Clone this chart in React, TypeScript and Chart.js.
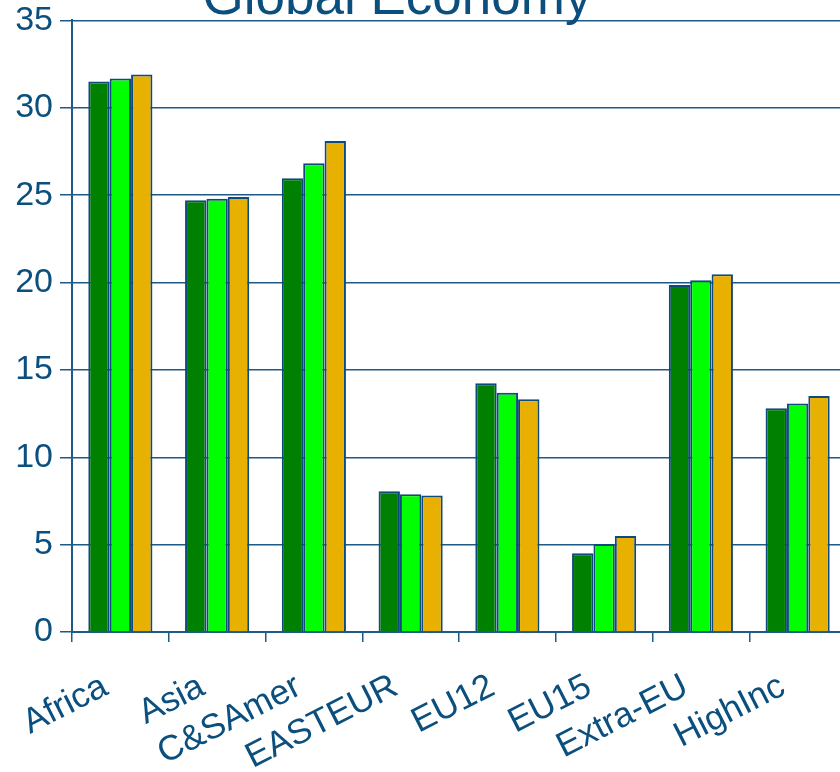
import React, { useEffect, useRef } from "react";
import { Chart, registerables } from "chart.js";

Chart.register(...registerables);

const TITLE = "Global Economy";
const categories = ["Africa", "Asia", "C&SAmer", "EASTEUR", "EU12", "EU15", "Extra-EU", "HighInc"];
const series1 = [31.51, 24.71, 25.96, 8.06, 14.24, 4.5, 19.86, 12.81];
const series2 = [31.67, 24.8, 26.82, 7.89, 13.69, 5.03, 20.13, 13.08];
const series3 = [31.91, 24.9, 28.1, 7.81, 13.32, 5.49, 20.47, 13.51];
const seriesNames = ["Series 1", "Series 2", "Series 3"];
const yTicks = [0, 5, 10, 15, 20, 25, 30, 35];

const TEXT = "#0b4f7e";
const LINE = "#1d5a88";
const BORDER = "#0f4a7c";
const COLORS = ["#008000", "#00ff00", "#e8b000"];
const FONT = "'Liberation Sans', Arial, sans-serif";

const titlePlugin = {
  id: "partialTitle",
  afterDraw(chart: any) {
    const ctx = chart.ctx;
    ctx.save();
    ctx.fillStyle = TEXT;
    ctx.font = "53px " + FONT;
    ctx.textAlign = "center";
    ctx.textBaseline = "alphabetic";
    ctx.fillText(TITLE, 397, 21);
    ctx.restore();
  },
};

export default function App() {
  const ref = useRef<HTMLCanvasElement | null>(null);
  useEffect(() => {
    if (!ref.current) return;
    const data = [series1, series2, series3];
    const chart = new Chart(ref.current, {
      type: "bar",
      data: {
        labels: categories,
        datasets: data.map((d, i) => ({
          label: seriesNames[i],
          data: d,
          backgroundColor: COLORS[i],
          borderColor: BORDER,
          borderWidth: 2,
          barPercentage: 1,
          categoryPercentage: 0.663,
        })),
      },
      options: {
        animation: false,
        responsive: false,
        maintainAspectRatio: false,
        layout: { padding: { top: 0, right: 0, left: 0, bottom: 0 } },
        plugins: { legend: { display: false }, title: { display: false }, tooltip: { enabled: false } },
        scales: {
          x: {
            afterFit: (s: any) => {
              s.height = 140;
            },
            grid: {
              display: true,
              drawOnChartArea: false,
              drawTicks: true,
              tickLength: 10,
              color: LINE,
              lineWidth: 1.5,
              offset: true,
            },
            border: { display: true, color: LINE, width: 2 },
            ticks: {
              color: TEXT,
              font: { family: FONT, size: 35 },
              maxRotation: 27,
              minRotation: 27,
              padding: 24,
              labelOffset: -15,
              autoSkip: false,
            },
          },
          y: {
            min: 0,
            max: 35,
            afterFit: (s: any) => {
              s.width = 72;
            },
            afterBuildTicks: (s: any) => {
              s.ticks = yTicks.map((v) => ({ value: v }));
            },
            grid: {
              display: true,
              drawOnChartArea: true,
              drawTicks: true,
              tickLength: 12,
              color: LINE,
              lineWidth: 1.5,
            },
            border: { display: true, color: LINE, width: 2 },
            ticks: {
              color: TEXT,
              font: { family: FONT, size: 34 },
              padding: 7,
            },
          },
        },
      },
      plugins: [titlePlugin],
    });
    return () => chart.destroy();
  }, []);
  return (
    <div
      style={{
        position: "fixed",
        left: 0,
        top: 0,
        width: 840,
        height: 772,
        overflow: "hidden",
        background: "#ffffff",
      }}
    >
      <canvas
        ref={ref}
        width={846}
        height={779}
        style={{ position: "absolute", left: 0, top: -7, width: 846, height: 779 }}
      />
    </div>
  );
}
